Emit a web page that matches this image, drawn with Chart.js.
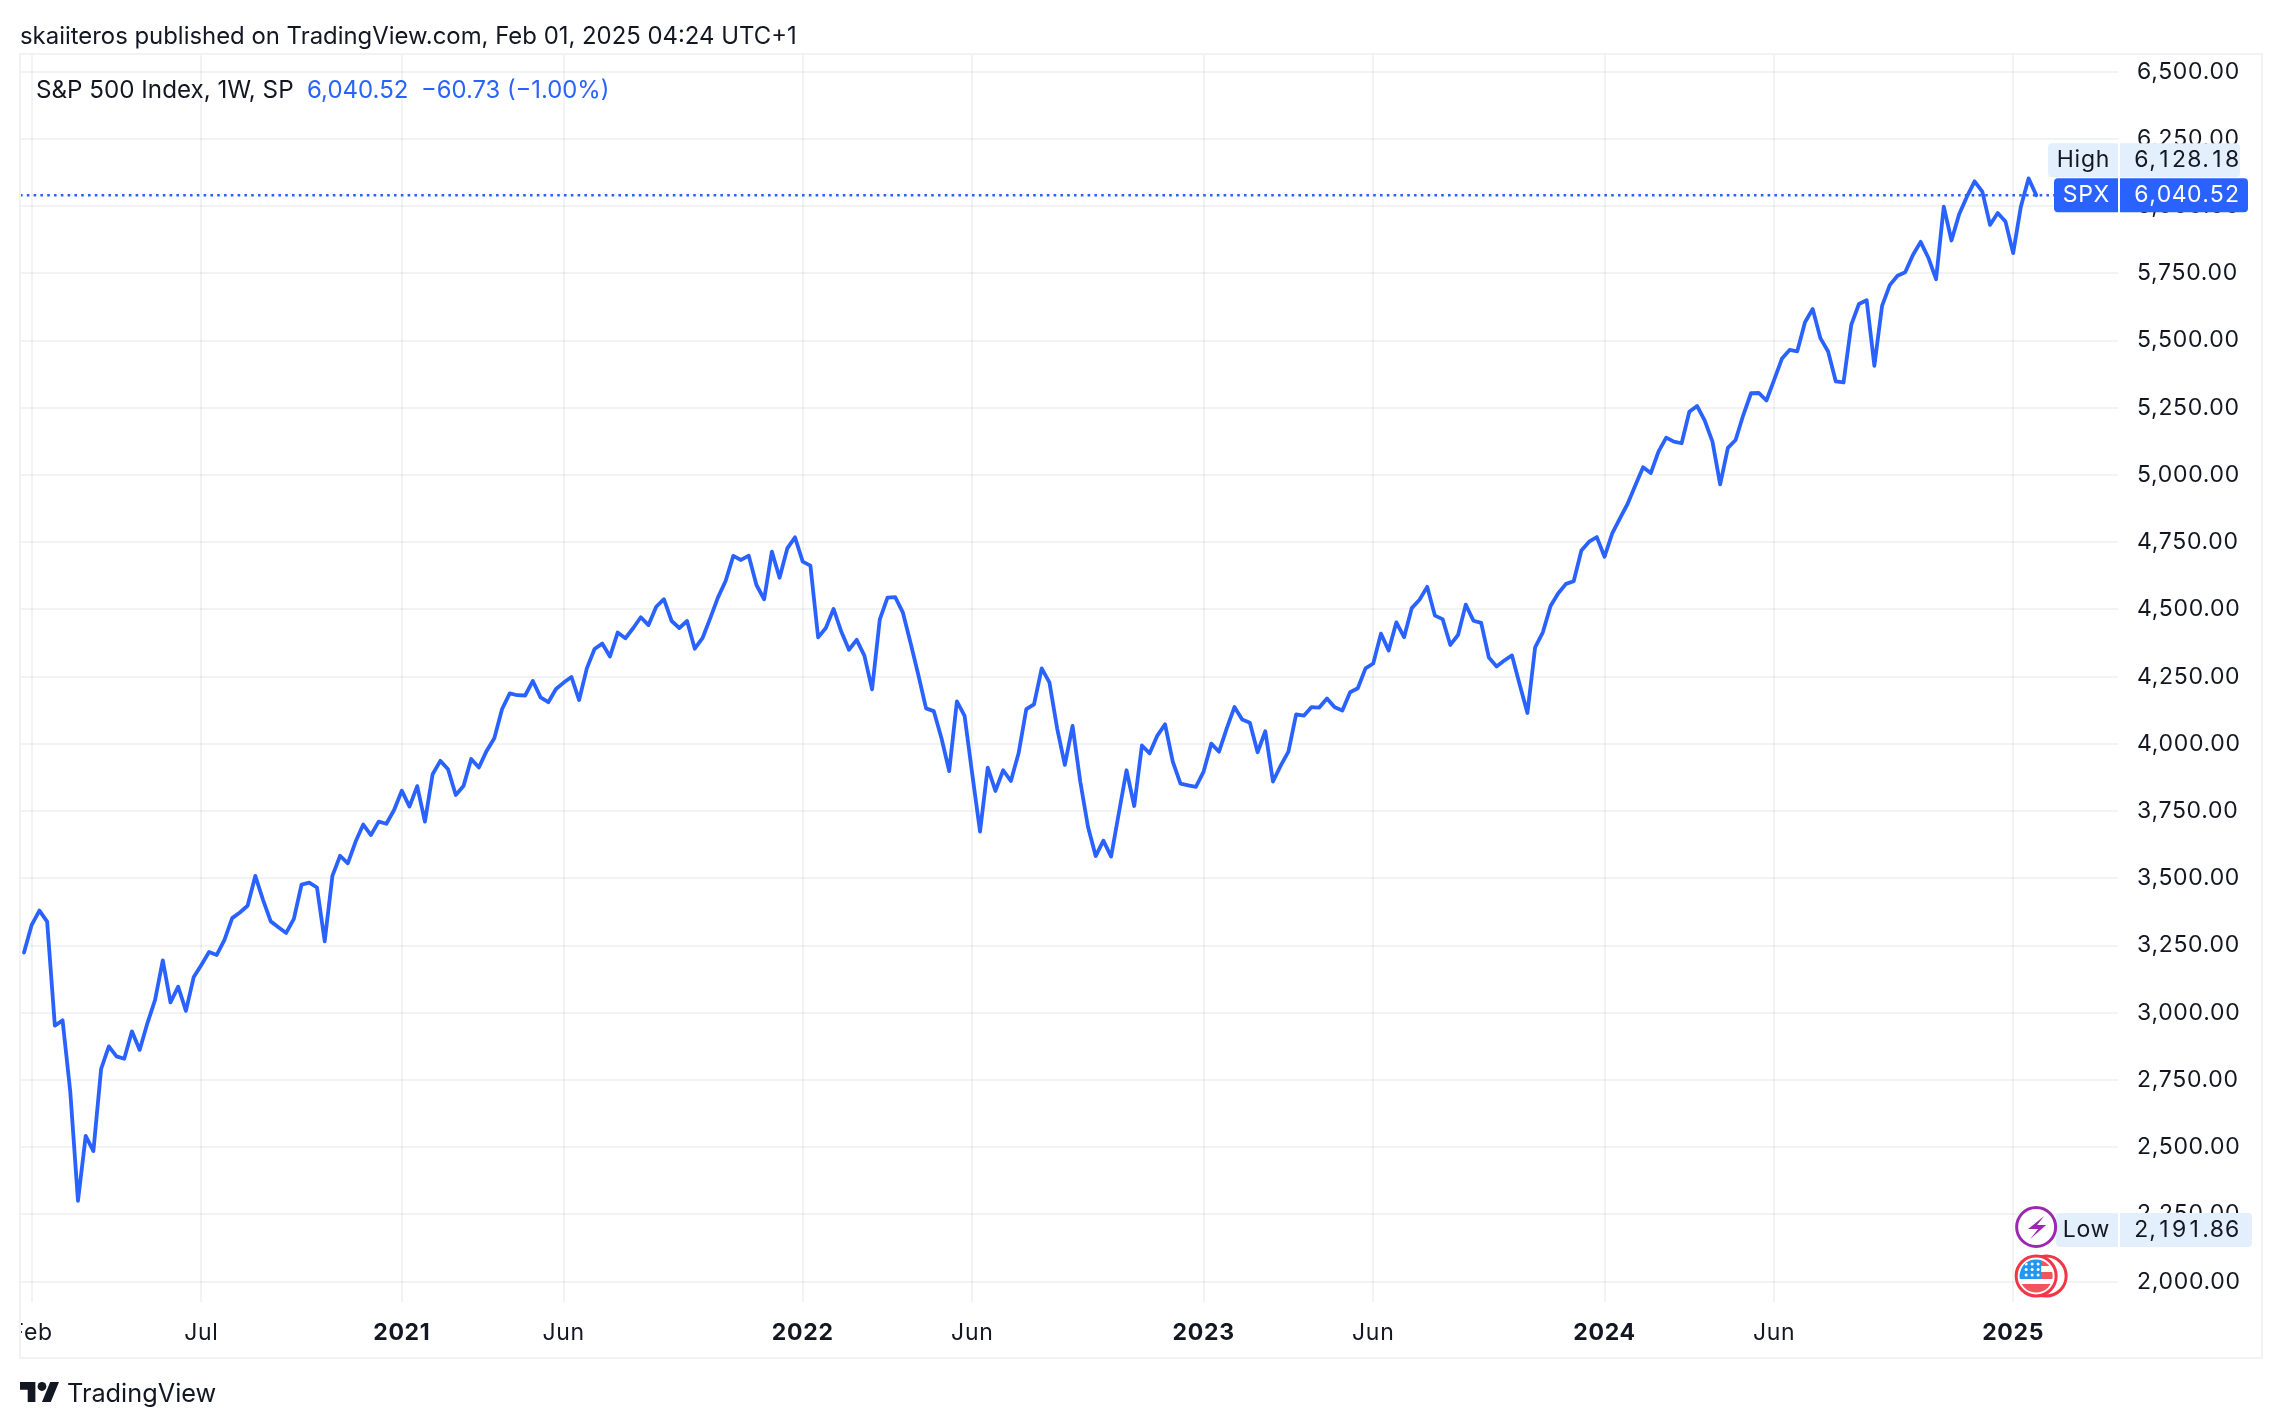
<!DOCTYPE html>
<html><head><meta charset="utf-8">
<script src="https://cdn.jsdelivr.net/npm/chart.js@4"></script>
<style>
html,body{margin:0;padding:0;background:#fff;width:2282px;height:1428px;overflow:hidden;font-family:Inter,sans-serif;color:#131722}
canvas{position:absolute;left:0;top:0}
.t{position:absolute;white-space:pre;line-height:1}
</style></head><body>
<canvas id="c" width="2282" height="1428" style="width:2282px;height:1428px"></canvas>
<div class="t" style="left:20px;top:24px;font-size:23.9px">skaiiteros published on TradingView.com, Feb 01, 2025 04:24 UTC+1</div>
<div class="t" style="left:36px;top:78px;font-size:24.2px">S&amp;P 500 Index, 1W, SP</div>
<div class="t" style="left:307px;top:78px;font-size:24px;color:#2962ff">6,040.52</div>
<div class="t" style="left:421px;top:78px;font-size:23.8px;color:#2962ff">−60.73 (−1.00%)</div>
<svg style="position:absolute;left:20px;top:1382px" width="39" height="20" viewBox="0 4 35.5 18" preserveAspectRatio="none"><path fill="#131722" d="M14 22H7V11H0V4h14v18zM28 22h-8l7.5-18h8L28 22z"/><circle fill="#131722" cx="20" cy="8" r="4"/></svg>
<div class="t" style="left:67px;top:1380px;font-size:25.3px">TradingView</div>
<script>
const closes = [
3224,3327,3380,3339,2952,2972,2707,2301,2542,2486,2791,2875,2838,2829,2931,2862,2961,3048,3195,3039,
3097,3007,3132,3178,3226,3215,3271,3352,3373,3398,3509,3420,3340,3318,3297,3349,3477,3484,3466,3266,
3509,3584,3556,3636,3700,3661,3711,3703,3754,3826,3767,3843,3711,3887,3937,3906,3810,3843,3944,3912,
3974,4021,4129,4188,4181,4180,4234,4173,4155,4204,4228,4249,4163,4281,4353,4373,4325,4414,4393,4430,
4471,4442,4510,4538,4457,4431,4457,4354,4393,4467,4544,4606,4699,4684,4700,4591,4538,4715,4618,4727,
4768,4678,4663,4396,4431,4502,4418,4350,4387,4328,4203,4463,4544,4546,4488,4374,4256,4132,4122,4021,
3899,4158,4104,3885,3674,3912,3825,3902,3862,3965,4129,4147,4281,4229,4058,3922,4067,3860,3692,3583,
3640,3581,3742,3902,3769,3994,3965,4031,4073,3934,3852,3846,3840,3897,4001,3971,4058,4137,4091,4079,
3969,4047,3860,3919,3971,4110,4105,4137,4135,4169,4136,4124,4192,4207,4281,4299,4410,4347,4452,4397,
4505,4536,4584,4477,4464,4368,4405,4518,4458,4450,4321,4288,4310,4329,4220,4115,4359,4415,4513,4560,
4595,4605,4719,4752,4769,4696,4783,4839,4893,4962,5029,5007,5087,5139,5124,5118,5235,5257,5202,5124,
4965,5101,5130,5223,5304,5305,5277,5354,5432,5465,5460,5568,5617,5509,5459,5348,5344,5558,5636,5650,
5406,5629,5706,5741,5754,5818,5867,5808,5728,5998,5872,5970,6035,6092,6054,5930,5974,5943,5825,5998,
6103,6040.52];
const yTicks = [2000,2250,2500,2750,3000,3250,3500,3750,4000,4250,4500,4750,5000,5250,5500,5750,6000,6250,6500];
const xTickIndex = [1,23,49,70,101,123,153,175,205,227,258];
const xTickLabels = ['Feb','Jul','2021','Jun','2022','Jun','2023','Jun','2024','Jun','2025'];
const yearTicks = [49,101,153,205,258];
const lastPrice = 6040.52, highPrice = 6128.18, lowPrice = 2191.86;
const xMin = -0.52, xMax = 271.6, yMin = 1924.5, yMax = 6565.6;
const BLUE = '#2962ff', INK = '#131722', GRID = 'rgba(42,46,57,0.06)', TINT = '#e3effd';
const money = v => v.toLocaleString('en-US',{minimumFractionDigits:2,maximumFractionDigits:2});

function rr(ctx,x,y,w,h,rl,rr2){ctx.beginPath();ctx.roundRect(x,y,w,h,[rl,rr2,rr2,rl]);ctx.fill();}
// right-aligned figures with equal digit advance, so a "1" keeps the width of a "0"
function tabular(ctx,text,right,y){
  const digit=ctx.measureText('0').width;
  let x=right;
  [...text].reverse().forEach(ch=>{
    const w=/\d/.test(ch)?digit:ctx.measureText(ch).width;
    x-=w;
    ctx.textAlign='left';
    ctx.fillText(ch,x+(w-ctx.measureText(ch).width)/2,y);
  });
}
function badge(ctx,left,right,cy,label,value,bg,fg){
  const h=34,top=cy-h/2,sep=2118;
  ctx.fillStyle=bg;
  rr(ctx,left,top,sep-left,h,4,0);
  rr(ctx,sep+2,top,right-sep-2,h,0,4);
  ctx.fillStyle=fg;ctx.font='23px Inter';ctx.textBaseline='middle';ctx.textAlign='right';
  ctx.fillText(label,2110,cy);
  tabular(ctx,value,2240,cy);
}
const spacing = {
  id:'spacing',
  beforeUpdate(chart){chart.ctx.letterSpacing='0.7px';},
  beforeDraw(chart){chart.ctx.letterSpacing='0.7px';}
};
const overlay = {
  id:'overlay',
  afterDraw(chart){
    const ctx=chart.ctx,xs=chart.scales.x,ys=chart.scales.y;
    ctx.save();
    // clip the first time label at the pane edge, then the pane frame
    ctx.fillStyle='#fff';ctx.fillRect(0,1303,19,54);
    ctx.strokeStyle='#f2f2f3';ctx.lineWidth=2;ctx.strokeRect(20,54,2242,1304);
    const spxY=ys.getPixelForValue(lastPrice),lowY=ys.getPixelForValue(lowPrice);
    badge(ctx,2048,2240,spxY-35,'High',money(highPrice),TINT,INK);
    badge(ctx,2054,2248,spxY,'SPX',money(lastPrice),BLUE,'#fff');
    badge(ctx,2056,2252,lowY,'Low',money(lowPrice),TINT,INK);
    const ix=xs.getPixelForValue(258)+23;
    // lightning marker
    const cx=ix,cy=1227;
    ctx.beginPath();ctx.arc(cx,cy,19.5,0,Math.PI*2);ctx.fillStyle='#fff';ctx.fill();
    ctx.strokeStyle='#9c27b0';ctx.lineWidth=3;ctx.stroke();
    ctx.fillStyle='#9c27b0';ctx.beginPath();
    [[8,-11],[-8,2],[2,2],[-6,12],[10,-2],[1,-2]].forEach((p,i)=>i?ctx.lineTo(cx+p[0],cy+p[1]):ctx.moveTo(cx+p[0],cy+p[1]));
    ctx.closePath();ctx.fill();
    // flag marker
    const fy=1276;
    [10,0].forEach(dx=>{ctx.beginPath();ctx.arc(cx+dx,fy,20,0,Math.PI*2);ctx.fillStyle='#fff';ctx.fill();ctx.strokeStyle='#f23645';ctx.lineWidth=3;ctx.stroke();});
    ctx.save();ctx.beginPath();ctx.arc(cx,fy,16.5,0,Math.PI*2);ctx.clip();
    ctx.fillStyle='#fff';ctx.fillRect(cx-17,fy-17,34,34);
    ctx.fillStyle='#f2545b';
    ctx.fillRect(cx-17,fy-16,34,6);ctx.fillRect(cx-17,fy-4,34,7);ctx.fillRect(cx-17,fy+8,34,9);
    ctx.fillStyle='#2196f3';ctx.fillRect(cx-17,fy-17,22,20);
    ctx.fillStyle='#fff';
    for(let r=0;r<3;r++)for(let k=0;k<3;k++){ctx.beginPath();ctx.arc(cx-10+k*6,fy-12+r*5.5,1.5,0,Math.PI*2);ctx.fill();}
    ctx.restore();
    ctx.restore();
  }
};
new Chart(document.getElementById('c'),{
  type:'line',
  data:{datasets:[
    {data:closes.map((y,x)=>({x,y})),borderColor:BLUE,borderWidth:3.8,pointRadius:0,tension:0,borderJoinStyle:'round',borderCapStyle:'round'},
    {data:[{x:xMin,y:lastPrice},{x:xMax,y:lastPrice}],borderColor:BLUE,borderWidth:2.4,borderDash:[2.6,4.2],pointRadius:0}
  ]},
  options:{
    responsive:false,animation:false,devicePixelRatio:1,
    layout:{padding:{left:20,top:54,right:20,bottom:70}},
    plugins:{legend:{display:false},tooltip:{enabled:false},title:{display:false}},
    scales:{
      x:{type:'linear',min:xMin,max:xMax,
        afterBuildTicks:s=>{s.ticks=xTickIndex.map(value=>({value}));},
        afterFit:s=>{s.height=56;s.paddingLeft=0;s.paddingRight=0;},
        grid:{color:GRID,lineWidth:2,drawTicks:false},border:{display:false},
        ticks:{autoSkip:false,maxRotation:0,minRotation:0,padding:17,color:INK,
          callback:v=>xTickLabels[xTickIndex.indexOf(v)],
          font:c=>yearTicks.includes(c.tick&&c.tick.value)?{family:'Inter',size:23,weight:'700'}:{family:'Inter',size:23,weight:'400'}}},
      y:{type:'linear',position:'right',min:yMin,max:yMax,
        afterBuildTicks:s=>{s.ticks=yTicks.map(value=>({value}));},
        afterFit:s=>{s.width=144;s.paddingTop=0;s.paddingBottom=0;},
        grid:{color:GRID,lineWidth:2,drawTicks:false},border:{display:false},
        ticks:{padding:19,color:INK,font:{family:'Inter',size:23},callback:v=>money(v)}}
    }
  },
  plugins:[spacing,overlay]
});
</script>
</body></html>
